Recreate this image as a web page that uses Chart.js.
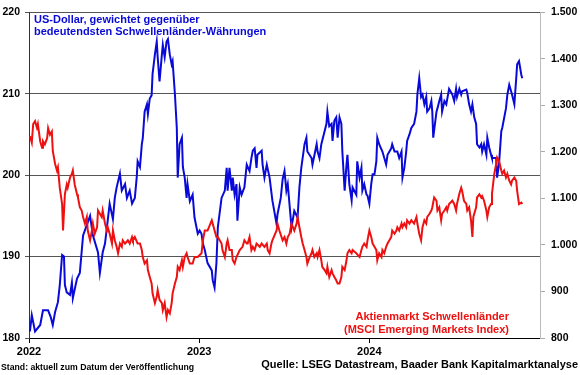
<!DOCTYPE html>
<html>
<head>
<meta charset="utf-8">
<script src="https://cdn.jsdelivr.net/npm/chart.js@4.4.1/dist/chart.umd.min.js"></script>
<style>
  body { margin: 0; background: #fff; }
  canvas { display: block; }
</style>
</head>
<body>
<canvas id="emChart" width="580" height="375"></canvas>
<script>
// x values = days since 01.01.2022
const yearTicks = [0, 365, 730];
const yearLabels = ["2022", "2023", "2024"];

const usdTitle = ["US-Dollar, gewichtet gegenüber", "bedeutendsten Schwellenländer-Währungen"];
const emTitle = ["Aktienmarkt Schwellenländer", "(MSCI Emerging Markets Index)"];
const noteLeft = "Stand: aktuell zum Datum der Veröffentlichung";
const noteRight = "Quelle: LSEG Datastream, Baader Bank Kapitalmarktanalyse";

// US-Dollar vs. EM currencies (left axis)
const usdDays = [
  2, 6, 13, 24, 30, 41, 47, 51, 56, 62,
  66, 71, 75, 77, 81, 88, 92, 94, 103, 109,
  116, 126, 131, 137, 148, 152, 158, 163, 169, 173,
  180, 184, 188, 195, 199, 206, 210, 216, 221, 227,
  231, 233, 238, 242, 244, 248, 253, 255, 259, 263,
  265, 270, 274, 276, 280, 285, 287, 291, 295, 298,
  302, 306, 308, 313, 317, 319, 323, 328, 330, 334,
  338, 340, 345, 351, 355, 362, 366, 370, 373, 377,
  383, 392, 394, 398, 402, 405, 413, 420, 424, 426,
  430, 435, 437, 441, 445, 447, 452, 456, 462, 467,
  473, 477, 480, 484, 488, 490, 499, 501, 505, 510,
  516, 522, 531, 533, 540, 544, 548, 552, 555, 563,
  569, 576, 580, 584, 591, 595, 597, 606, 608, 617,
  619, 623, 627, 634, 638, 640, 644, 649, 651, 655,
  659, 662, 666, 670, 672, 677, 681, 683, 687, 692,
  694, 702, 704, 709, 713, 715, 719, 724, 726, 730,
  734, 737, 741, 745, 747, 751, 758, 762, 766, 769,
  777, 779, 784, 790, 794, 799, 801, 805, 809, 811,
  816, 820, 826, 831, 833, 837, 841, 844, 848, 852,
  854, 859, 863, 865, 867, 874, 876, 880, 884, 886,
  891, 895, 901, 908, 912, 916, 918, 923, 927, 929,
  938, 940, 944, 948, 951, 955, 959, 961, 966, 970,
  972, 976, 981, 983, 987, 991, 993, 1002, 1004, 1008,
  1013, 1015, 1023, 1026, 1030, 1034, 1036, 1041, 1045, 1047,
  1051, 1056, 1058
];
const usdValues = [
  180.8, 182.8, 180.8, 181.6, 183.4, 183.4, 182.5, 181.6, 183.2, 184.4,
  186.5, 190.2, 190.0, 186.5, 185.6, 185.3, 186.8, 184.9, 187.3, 188.0,
  192.6, 194.2, 195.0, 192.6, 190.5, 188.0, 190.5, 191.6, 194.5, 196.5,
  194.6, 197.2, 198.5, 200.2, 198.1, 198.9, 197.2, 198.1, 196.5, 197.2,
  199.7, 201.7, 201.0, 203.8, 204.5, 207.8, 208.7, 207.5, 209.4, 209.8,
  212.4, 214.8, 216.4, 214.5, 211.5, 214.8, 216.0, 214.5, 216.4, 216.7,
  214.8, 213.6, 214.0, 209.9, 205.8, 199.7, 203.8, 204.6, 201.0, 199.7,
  197.2, 198.9, 196.8, 197.6, 194.8, 192.8, 193.2, 192.8, 191.6, 190.8,
  189.2, 188.3, 187.1, 186.2, 189.2, 193.6, 197.2, 198.1, 200.9, 198.1,
  200.9, 198.1, 199.7, 197.6, 198.9, 194.4, 198.5, 197.6, 198.5, 201.3,
  200.5, 202.1, 203.0, 203.3, 200.9, 202.5, 203.0, 201.3, 199.7, 201.3,
  199.7, 196.9, 194.0, 195.2, 197.2, 199.5, 200.5, 198.1, 198.9, 193.6,
  195.6, 194.8, 198.5, 200.9, 203.8, 204.6, 202.9, 202.1, 201.3, 203.8,
  202.9, 202.1, 203.8, 205.4, 206.3, 207.8, 206.0, 206.3, 204.2, 206.7,
  207.1, 204.6, 207.1, 206.3, 203.0, 198.1, 201.3, 202.5, 198.9, 196.9,
  198.5, 197.6, 201.7, 199.7, 200.9, 198.1, 198.9, 197.6, 197.5, 196.5,
  198.9, 200.1, 200.1, 201.7, 204.6, 203.8, 202.9, 202.1, 201.3, 202.5,
  203.3, 203.8, 202.9, 202.9, 202.1, 202.9, 199.7, 200.9, 202.9, 204.2,
  205.0, 205.8, 206.3, 207.8, 209.9, 211.9, 209.6, 209.9, 208.7, 209.6,
  207.8, 208.2, 209.1, 207.8, 204.6, 207.8, 208.2, 209.1, 209.9, 207.8,
  209.1, 208.7, 210.6, 209.9, 209.1, 210.6, 209.6, 210.6, 209.9, 210.3,
  210.5, 210.1, 208.7, 207.8, 208.7, 207.1, 206.3, 203.8, 203.4, 203.8,
  202.9, 203.8, 202.5, 204.6, 203.4, 202.5, 202.1, 202.1, 199.7, 201.3,
  205.4, 205.8, 208.2, 209.9, 211.1, 210.3, 209.9, 208.7, 211.9, 213.6,
  214.0, 212.3, 211.9
];

// MSCI Emerging Markets (right axis)
const emDays = [
  2, 6, 9, 13, 17, 19, 24, 28, 30, 34,
  39, 41, 45, 49, 51, 56, 60, 62, 66, 71,
  73, 77, 81, 83, 88, 92, 94, 98, 103, 105,
  109, 113, 116, 120, 124, 126, 131, 135, 137, 141,
  146, 148, 152, 156, 158, 163, 167, 169, 173, 178,
  180, 184, 188, 191, 195, 199, 201, 206, 212, 216,
  221, 223, 227, 233, 238, 242, 244, 248, 253, 255,
  259, 263, 265, 270, 274, 276, 280, 285, 287, 291,
  295, 298, 302, 306, 308, 313, 317, 319, 323, 328,
  330, 334, 338, 340, 345, 351, 355, 362, 370, 373,
  377, 383, 392, 394, 398, 402, 405, 409, 413, 415,
  420, 424, 426, 430, 435, 437, 441, 445, 452, 458,
  462, 467, 469, 473, 477, 480, 484, 488, 495, 499,
  505, 510, 512, 516, 520, 522, 531, 533, 537, 544,
  548, 552, 555, 559, 563, 569, 574, 576, 580, 584,
  587, 591, 595, 597, 602, 606, 608, 612, 617, 619,
  623, 627, 629, 634, 638, 640, 644, 649, 651, 655,
  659, 662, 666, 670, 672, 677, 681, 683, 687, 692,
  694, 702, 709, 713, 715, 719, 724, 726, 730, 734,
  737, 741, 745, 747, 751, 756, 758, 762, 766, 769,
  773, 777, 779, 784, 788, 790, 794, 799, 801, 805,
  809, 811, 816, 820, 826, 831, 833, 837, 841, 844,
  848, 852, 854, 859, 863, 865, 869, 874, 876, 880,
  884, 886, 891, 895, 897, 901, 908, 912, 916, 918,
  923, 927, 929, 933, 938, 940, 944, 948, 951, 953,
  959, 961, 966, 970, 972, 976, 981, 983, 987, 991,
  993, 998, 1002, 1004, 1008, 1013, 1015, 1019, 1023, 1026,
  1030, 1034, 1036, 1041, 1045, 1047, 1051, 1056, 1058
];
const emValues = [
  1234, 1220, 1260, 1266, 1252, 1260, 1223, 1209, 1223, 1216,
  1230, 1251, 1237, 1244, 1202, 1174, 1160, 1167, 1123, 1088,
  1031, 1109, 1130, 1123, 1145, 1153, 1160, 1130, 1109, 1102,
  1081, 1074, 1060, 1046, 1060, 1031, 1010, 1031, 1046, 1024,
  1038, 1074, 1067, 1060, 1074, 1046, 1031, 1038, 1024, 1003,
  1031, 1010, 996, 982, 1003, 996, 1010, 1003, 1010, 1003,
  1017, 1010, 1017, 1003, 1003, 989, 974, 960, 967, 946,
  931, 917, 896, 875, 889, 903, 882, 875, 860, 875,
  845, 860, 853, 875, 896, 917, 931, 953, 946, 967,
  953, 974, 982, 974, 960, 960, 974, 974, 982, 1010,
  1031, 1031, 1053, 1046, 1031, 1017, 1017, 1010, 1003, 989,
  974, 1003, 1010, 989, 989, 967, 960, 974, 989, 996,
  1010, 1003, 1003, 1017, 989, 996, 989, 1003, 996, 1003,
  996, 1003, 989, 982, 1003, 1010, 1031, 1046, 1031, 1010,
  1017, 1003, 1017, 1024, 1046, 1031, 1046, 1060, 1038, 1017,
  1003, 989, 974, 960, 974, 982, 989, 974, 982, 974,
  989, 967, 953, 946, 939, 953, 931, 946, 939, 931,
  924, 917, 917, 931, 953, 946, 967, 982, 989, 982,
  989, 982, 974, 989, 996, 1003, 996, 1010, 1031, 1017,
  1003, 996, 989, 967, 982, 974, 989, 982, 996, 1003,
  1010, 1017, 1031, 1024, 1031, 1038, 1031, 1046, 1038, 1046,
  1038, 1053, 1046, 1053, 1046, 1060, 1046, 1024, 1010, 1038,
  1053, 1046, 1060, 1067, 1074, 1081, 1102, 1095, 1074, 1081,
  1053, 1067, 1074, 1081, 1074, 1088, 1095, 1088, 1074, 1088,
  1110, 1123, 1116, 1095, 1088, 1074, 1081, 1053, 1017, 1060,
  1081, 1102, 1109, 1102, 1105, 1095, 1074, 1060, 1081, 1088,
  1110, 1153, 1174, 1188, 1181, 1160, 1153, 1160, 1145, 1153,
  1138, 1130, 1138, 1145, 1138, 1116, 1088, 1091, 1088
];

const BLUE = "#0a0ad8";
const RED = "#ee1111";
const FONT = '"Liberation Sans", Arial, sans-serif';

const toPoints = (xs, ys) => xs.map((x, i) => ({ x: x, y: ys[i] }));

const textPlugin = {
  id: "textPlugin",
  afterDraw(chart) {
    const ctx = chart.ctx;
    const area = chart.chartArea;
    ctx.save();
    ctx.textBaseline = "middle";
    ctx.font = "bold 11px " + FONT;

    ctx.fillStyle = BLUE;
    ctx.textAlign = "left";
    ctx.fillText(usdTitle[0], area.left + 5, 20);
    ctx.fillText(usdTitle[1], area.left + 5, 32);

    ctx.fillStyle = RED;
    ctx.textAlign = "right";
    ctx.fillText(emTitle[0], area.right - 31, 317);
    ctx.fillText(emTitle[1], area.right - 31, 330);

    ctx.fillStyle = "#000";
    ctx.fillText(noteRight, 578, 365);
    ctx.textAlign = "left";
    ctx.font = "bold 8.7px " + FONT;
    ctx.fillText(noteLeft, 1, 368);
    ctx.restore();
  }
};

new Chart(document.getElementById("emChart").getContext("2d"), {
  type: "line",
  data: {
    datasets: [
      {
        label: emTitle.join(" "),
        data: toPoints(emDays, emValues),
        yAxisID: "yRight",
        borderColor: RED,
        borderWidth: 2,
        pointRadius: 0,
        tension: 0
      },
      {
        label: usdTitle.join(" "),
        data: toPoints(usdDays, usdValues),
        yAxisID: "yLeft",
        borderColor: BLUE,
        borderWidth: 2,
        pointRadius: 0,
        tension: 0
      }
    ]
  },
  options: {
    responsive: false,
    animation: false,
    devicePixelRatio: 1,
    layout: { padding: { top: 10, left: 0, right: 0, bottom: 0 } },
    plugins: {
      legend: { display: false },
      tooltip: { enabled: false }
    },
    scales: {
      x: {
        type: "linear",
        min: 0,
        max: 1096,
        afterBuildTicks: (axis) => {
          axis.ticks = yearTicks.map((v) => ({ value: v }));
        },
        afterFit: (axis) => { axis.height = 37; },
        ticks: {
          autoSkip: false,
          maxRotation: 0,
          padding: 2,
          color: "#000",
          font: { family: FONT, size: 11, weight: "bold" },
          callback: (v) => yearLabels[yearTicks.indexOf(v)]
        },
        grid: { drawOnChartArea: false, drawTicks: true, tickLength: 5, color: "#000" },
        border: { display: true, color: "#000", width: 1 }
      },
      yLeft: {
        position: "left",
        min: 180,
        max: 220,
        afterFit: (axis) => { axis.width = 29; },
        ticks: {
          stepSize: 10,
          padding: 5,
          color: "#000",
          font: { family: FONT, size: 10.5, weight: "bold" }
        },
        grid: { color: "#555", lineWidth: 1, drawTicks: true, tickLength: 4 },
        border: { display: true, color: "#333", width: 1 }
      },
      yRight: {
        position: "right",
        min: 800,
        max: 1500,
        afterFit: (axis) => { axis.width = 40; },
        ticks: {
          stepSize: 100,
          padding: 6,
          color: "#000",
          font: { family: FONT, size: 10.5, weight: "bold" },
          callback: (v) => String(v).replace(/\B(?=(\d{3})+$)/, ".")
        },
        grid: { drawOnChartArea: false, drawTicks: true, tickLength: 5, color: "#aaa" },
        border: { display: true, color: "#bbb", width: 1 }
      }
    }
  },
  plugins: [textPlugin]
});
</script>
</body>
</html>
